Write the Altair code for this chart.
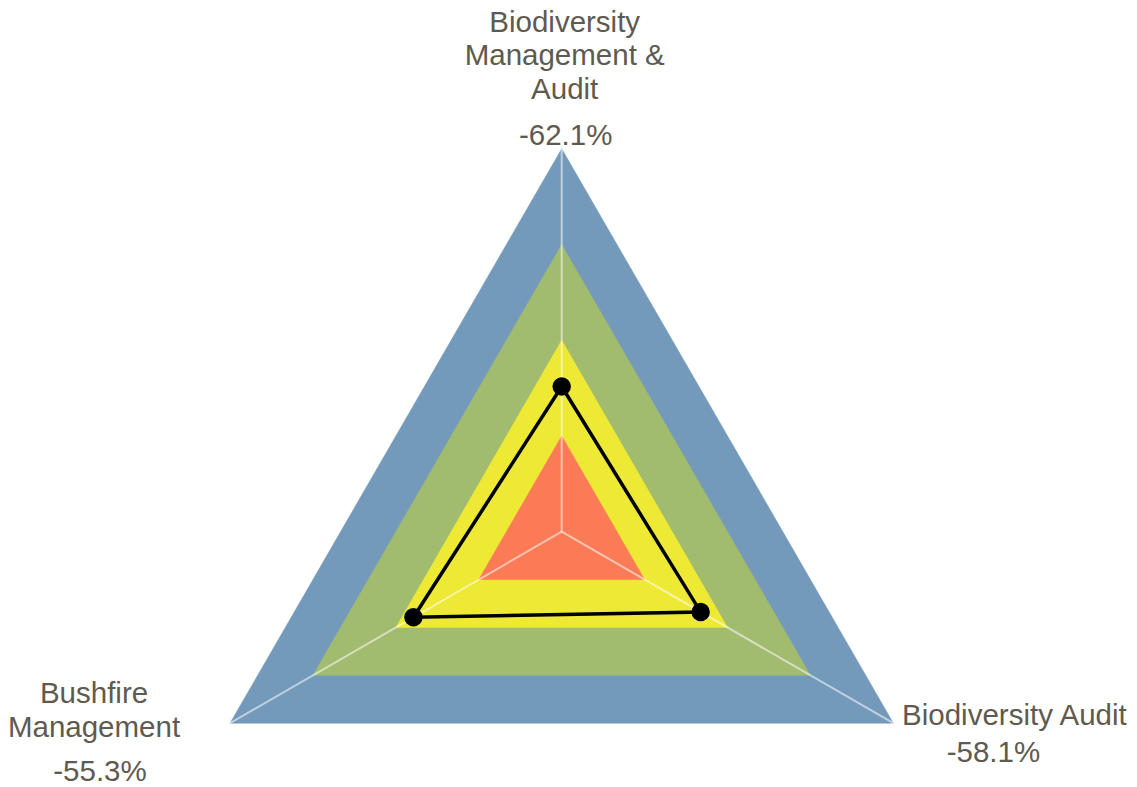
import altair as alt
import pandas as pd

# ---- data ----
axis_names = ["Biodiversity Management & Audit", "Biodiversity Audit", "Bushfire Management"]
axis_labels = ["Biodiversity\nManagement &\nAudit", "Biodiversity Audit", "Bushfire\nManagement"]
axis_angles = [90, -30, 210]          # degrees, clockwise from top
scores = [-62.1, -58.1, -55.3]        # percent
band_levels = [0, -25, -50, -75]      # outer -> inner ring edges (percent)
scale_min = -100

band_colors = ["#7399BB", "#A1BB6F", "#EDE935", "#FC7B57"]

# ---- tables built from the lists ----
n = len(axis_names)
ring_rows = []
for lvl in band_levels:
    for k in range(n + 1):
        i = k % n
        ring_rows.append({"level": lvl, "ord": k, "angle": axis_angles[i]})
rings = pd.DataFrame(ring_rows)

poly_rows = []
for k in range(n + 1):
    i = k % n
    poly_rows.append({"ord": k, "angle": axis_angles[i], "value": scores[i], "axis": axis_names[i]})
poly = pd.DataFrame(poly_rows)

axes_df = pd.DataFrame({"axis": axis_names, "label": axis_labels, "angle": axis_angles,
                        "value": scores, "top": [band_levels[0]] * n})

W, H = 1121, 775
xs = alt.Scale(domain=[-1.44569, 1.48120], nice=False, zero=False)
ys = alt.Scale(domain=[-0.65614, 1.36736], nice=False, zero=False)

def polar(field):
    return [
        alt.CalculateTransform(calculate=f"(datum.{field} - ({scale_min})) / (0 - ({scale_min}))", **{"as": "r"}),
        alt.CalculateTransform(calculate="datum.r * cos(datum.angle * PI / 180)", **{"as": "px"}),
        alt.CalculateTransform(calculate="datum.r * sin(datum.angle * PI / 180)", **{"as": "py"}),
    ]

X = alt.X("px:Q", scale=xs, axis=None)
Y = alt.Y("py:Q", scale=ys, axis=None)

layers = []
for lvl, col in zip(band_levels, band_colors):
    c = alt.Chart(rings)
    c = c.transform_filter(alt.datum.level == lvl)
    c.transform = (c.transform or []) + polar("level")
    layers.append(
        c.mark_line(fill=col, stroke=col, strokeWidth=0.5).encode(
            x=X, y=Y, order=alt.Order("ord:Q")
        )
    )

spk = alt.Chart(axes_df)
spk.transform = polar("top")
spokes = spk.mark_rule(color="white", opacity=0.55, strokeWidth=2).encode(
    x=alt.X("cx:Q", scale=xs, axis=None), y=alt.Y("cy:Q", scale=ys, axis=None),
    x2="px:Q", y2="py:Q"
).transform_calculate(cx="0", cy="0")
layers.append(spokes)

pl = alt.Chart(poly)
pl.transform = polar("value")
layers.append(pl.mark_line(color="black", strokeWidth=3.5).encode(x=X, y=Y, order=alt.Order("ord:Q")))

pt = alt.Chart(axes_df)
pt.transform = polar("value")
layers.append(pt.mark_circle(color="black", size=340, opacity=1).encode(x=X, y=Y))

font = "Liberation Sans"
txt_color = "#5f5a4f"
fs = 29.5
name_offsets = {axis_names[0]: (3, -126), axis_names[1]: (121, -7), axis_names[2]: (-136, -29)}
value_offsets = {axis_names[0]: (4, -13), axis_names[1]: (100, 30), axis_names[2]: (-130, 49)}

for nm in axis_names:
    base = alt.Chart(axes_df)
    base.transform = [alt.FilterTransform(filter=alt.datum.axis == nm)] + polar("top")
    dx, dy = name_offsets[nm]
    layers.append(
        base.mark_text(font=font, fontSize=fs, color=txt_color, align="center", baseline="middle",
                       lineBreak="\n", lineHeight=33.5, dx=dx, dy=dy).encode(x=X, y=Y, text="label:N")
    )
    dx, dy = value_offsets[nm]
    layers.append(
        base.transform_calculate(vtxt="datum.value + '%'")
        .mark_text(font=font, fontSize=fs, color=txt_color, align="center", baseline="middle",
                   dx=dx, dy=dy).encode(x=X, y=Y, text="vtxt:N")
    )

chart = alt.layer(*layers).properties(
    width=W, height=H, padding=0, autosize=alt.AutoSizeParams(type="none")
).configure_view(stroke=None)

chart.save("out.html", embed_options={"renderer": "svg", "actions": False})
